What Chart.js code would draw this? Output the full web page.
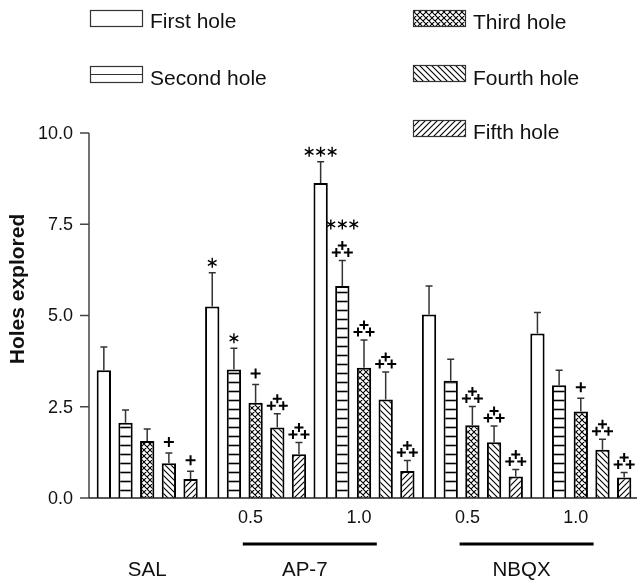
<!DOCTYPE html>
<html>
<head>
<meta charset="utf-8">
<script src="https://cdn.jsdelivr.net/npm/chart.js@4"></script>
<style>
  html, body { margin: 0; padding: 0; background: #fff; }
  canvas { display: block; }
</style>
</head>
<body>
<canvas id="chart" width="637" height="583"></canvas>
<script>
// groups on the x axis (dose of each drug)
const groups = ['SAL', 'AP-7 0.5', 'AP-7 1.0', 'NBQX 0.5', 'NBQX 1.0'];
const doseLabels = ['', '0.5', '1.0', '0.5', '1.0'];
const yTicks = [0, 2.5, 5, 7.5, 10];

// mean holes explored per hole order
const firstHole  = [3.50, 5.25, 8.63, 5.03, 4.51];
const secondHole = [2.06, 3.52, 5.81, 3.21, 3.09];
const thirdHole  = [1.56, 2.61, 3.57, 1.99, 2.37];
const fourthHole = [0.95, 1.93, 2.70, 1.53, 1.32];
const fifthHole  = [0.52, 1.20, 0.74, 0.59, 0.56];

// top of the error bar (mean + SEM)
const firstErr  = [4.14, 6.17, 9.21, 5.81, 5.08];
const secondErr = [2.41, 4.10, 6.51, 3.80, 3.50];
const thirdErr  = [1.89, 3.11, 4.33, 2.51, 2.73];
const fourthErr = [1.23, 2.31, 3.45, 1.97, 1.61];
const fifthErr  = [0.73, 1.52, 1.03, 0.78, 0.70];

// significance marks: number of '*' and plus type (1 = '+', 2 = stacked '++')
const firstStars  = [0, 1, 3, 0, 0];
const secondStars = [0, 1, 3, 0, 0];
const thirdStars  = [0, 0, 0, 0, 0];
const fourthStars = [0, 0, 0, 0, 0];
const fifthStars  = [0, 0, 0, 0, 0];

const firstPlus  = [0, 0, 0, 0, 0];
const secondPlus = [0, 0, 2, 0, 0];
const thirdPlus  = [0, 1, 2, 2, 1];
const fourthPlus = [1, 2, 2, 2, 2];
const fifthPlus  = [1, 2, 2, 2, 2];

const FONT = '"Liberation Sans", Arial, Helvetica, sans-serif';

// hatch patterns
function makePattern(kind) {
    const s = kind === 'hlines' ? 9 : 6;
    const c = document.createElement('canvas');
    c.width = s; c.height = s;
    const g = c.getContext('2d');
    g.fillStyle = '#fff';
    g.fillRect(0, 0, s, s);
    g.strokeStyle = '#000';
    g.lineWidth = kind === 'hlines' ? 1.6 : 1.1;
    g.beginPath();
    if (kind === 'hlines') {
        g.moveTo(0, 4.5); g.lineTo(s, 4.5);
    }
    if (kind === 'back' || kind === 'cross') {
        g.moveTo(-1, -1); g.lineTo(s + 1, s + 1);
        g.moveTo(-1, s - 1); g.lineTo(1, s + 1);
        g.moveTo(s - 1, -1); g.lineTo(s + 1, 1);
    }
    if (kind === 'fwd' || kind === 'cross') {
        g.moveTo(-1, s + 1); g.lineTo(s + 1, -1);
        g.moveTo(-1, 1); g.lineTo(1, -1);
        g.moveTo(s - 1, s + 1); g.lineTo(s + 1, s - 1);
    }
    g.stroke();
    return g.createPattern(c, 'repeat');
}

const ctxMain = document.getElementById('chart').getContext('2d');
const fills = ['#fff', makePattern('hlines'), makePattern('cross'), makePattern('back'), makePattern('fwd')];
const names = ['First hole', 'Second hole', 'Third hole', 'Fourth hole', 'Fifth hole'];
const values = [firstHole, secondHole, thirdHole, fourthHole, fifthHole];
const errTops = [firstErr, secondErr, thirdErr, fourthErr, fifthErr];
const stars = [firstStars, secondStars, thirdStars, fourthStars, fifthStars];
const pluses = [firstPlus, secondPlus, thirdPlus, fourthPlus, fifthPlus];

function drawPlus(g, x, y, r) {
    g.beginPath();
    g.moveTo(x - r, y); g.lineTo(x + r, y);
    g.moveTo(x, y - r); g.lineTo(x, y + r);
    g.stroke();
}

function drawStar(g, x, y, r) {
    g.beginPath();
    for (let k = 0; k < 3; k++) {
        const a = Math.PI / 2 + k * Math.PI / 3;
        g.moveTo(x + r * Math.cos(a), y + r * Math.sin(a));
        g.lineTo(x - r * Math.cos(a), y - r * Math.sin(a));
    }
    g.stroke();
}

// axes, error bars, marks, labels and legend
const decorPlugin = {
    id: 'decor',
    afterDatasetsDraw(chart) {
        const g = chart.ctx;
        const yScale = chart.scales.y;
        const xScale = chart.scales.x;
        const area = chart.chartArea;
        const axisX = area.left - 4;
        const axisY = yScale.getPixelForValue(0);
        g.save();

        // error bars + significance marks
        values.forEach((vals, i) => {
            const meta = chart.getDatasetMeta(i);
            meta.data.forEach((bar, j) => {
                const yTop = bar.y;
                const yErr = yScale.getPixelForValue(errTops[i][j]);
                g.strokeStyle = '#333';
                g.lineWidth = 1.5;
                g.beginPath();
                g.moveTo(bar.x, yTop); g.lineTo(bar.x, yErr);
                g.moveTo(bar.x - 3.5, yErr); g.lineTo(bar.x + 3.5, yErr);
                g.stroke();

                g.strokeStyle = '#000';
                const p = pluses[i][j];
                g.lineWidth = 2;
                if (p === 1) {
                    drawPlus(g, bar.x, yErr - 11, 5);
                } else if (p === 2) {
                    drawPlus(g, bar.x - 6, yErr - 8, 4.5);
                    drawPlus(g, bar.x + 6, yErr - 8, 4.5);
                    drawPlus(g, bar.x, yErr - 15, 4.5);
                }
                const n = stars[i][j];
                if (n > 0) {
                    const sy = p === 2 ? yErr - 36 : yErr - 10;
                    g.lineWidth = 1.4;
                    for (let k = 0; k < n; k++) {
                        drawStar(g, bar.x + (k - (n - 1) / 2) * 11.5, sy, 5);
                    }
                }
            });
        });

        // y axis
        g.strokeStyle = '#444';
        g.lineWidth = 1.5;
        g.beginPath();
        g.moveTo(axisX, yScale.getPixelForValue(10));
        g.lineTo(axisX, axisY);
        yTicks.forEach(t => {
            const y = yScale.getPixelForValue(t);
            g.moveTo(axisX - 9, y); g.lineTo(axisX, y);
        });
        g.stroke();
        g.strokeStyle = '#222';
        g.beginPath();
        g.moveTo(axisX, axisY); g.lineTo(chart.width, axisY);
        g.stroke();

        g.fillStyle = '#111';
        g.font = '18px ' + FONT;
        g.textAlign = 'right';
        g.textBaseline = 'middle';
        yTicks.forEach(t => {
            g.fillText(t.toFixed(1), axisX - 16, yScale.getPixelForValue(t) + 1);
        });

        g.save();
        g.translate(18, 289);
        g.rotate(-Math.PI / 2);
        g.textAlign = 'center';
        g.font = 'bold 21px ' + FONT;
        g.fillText('Holes explored', 0, 0);
        g.restore();

        // dose labels, drug bars and names
        g.textAlign = 'center';
        g.font = '18px ' + FONT;
        doseLabels.forEach((d, j) => {
            if (d) g.fillText(d, xScale.getPixelForValue(j) - 5, 518);
        });
        g.font = '20.5px ' + FONT;
        g.fillText('SAL', xScale.getPixelForValue(0), 570);
        [[1, 2, 'AP-7'], [3, 4, 'NBQX']].forEach(([a, b, name]) => {
            const mid = (xScale.getPixelForValue(a) + xScale.getPixelForValue(b)) / 2;
            g.fillStyle = '#000';
            g.fillRect(mid - 67, 542.5, 134, 3);
            g.fillStyle = '#111';
            g.fillText(name, mid - 5, 570);
        });

        // legend
        const boxes = [[90, 10, 28, 'First hole'], [90, 66, 85, 'Second hole'],
                       [413, 10, 29, 'Third hole'], [413, 65, 85, 'Fourth hole'], [413, 120, 139, 'Fifth hole']];
        g.textAlign = 'left';
        g.textBaseline = 'alphabetic';
        g.font = '21px ' + FONT;
        boxes.forEach(([bx, by, base, label], i) => {
            g.fillStyle = i === 1 ? '#fff' : fills[i];
            g.fillRect(bx, by, 53, 17);
            g.strokeStyle = '#333';
            g.lineWidth = 1.2;
            g.strokeRect(bx + 0.5, by + 0.5, 52, 16);
            if (i === 1) {
                g.beginPath();
                g.moveTo(bx, by + 8.5); g.lineTo(bx + 53, by + 8.5);
                g.stroke();
            }
            g.fillStyle = '#111';
            g.fillText(label, bx + 60, base);
        });

        g.restore();
    }
};

new Chart(ctxMain, {
    type: 'bar',
    data: {
        labels: groups,
        datasets: values.map((vals, i) => ({
            label: names[i],
            data: vals,
            backgroundColor: fills[i],
            borderColor: '#000',
            borderWidth: 2,
            borderSkipped: 'bottom',
            categoryPercentage: 1,
            barPercentage: 0.66
        }))
    },
    options: {
        responsive: false,
        animation: false,
        devicePixelRatio: 1,
        layout: { padding: { left: 93, right: 2, top: 133, bottom: 85 } },
        plugins: { legend: { display: false }, tooltip: { enabled: false } },
        scales: {
            x: { display: false },
            y: { display: false, min: 0, max: 10 }
        }
    },
    plugins: [decorPlugin]
});
</script>
</body>
</html>
